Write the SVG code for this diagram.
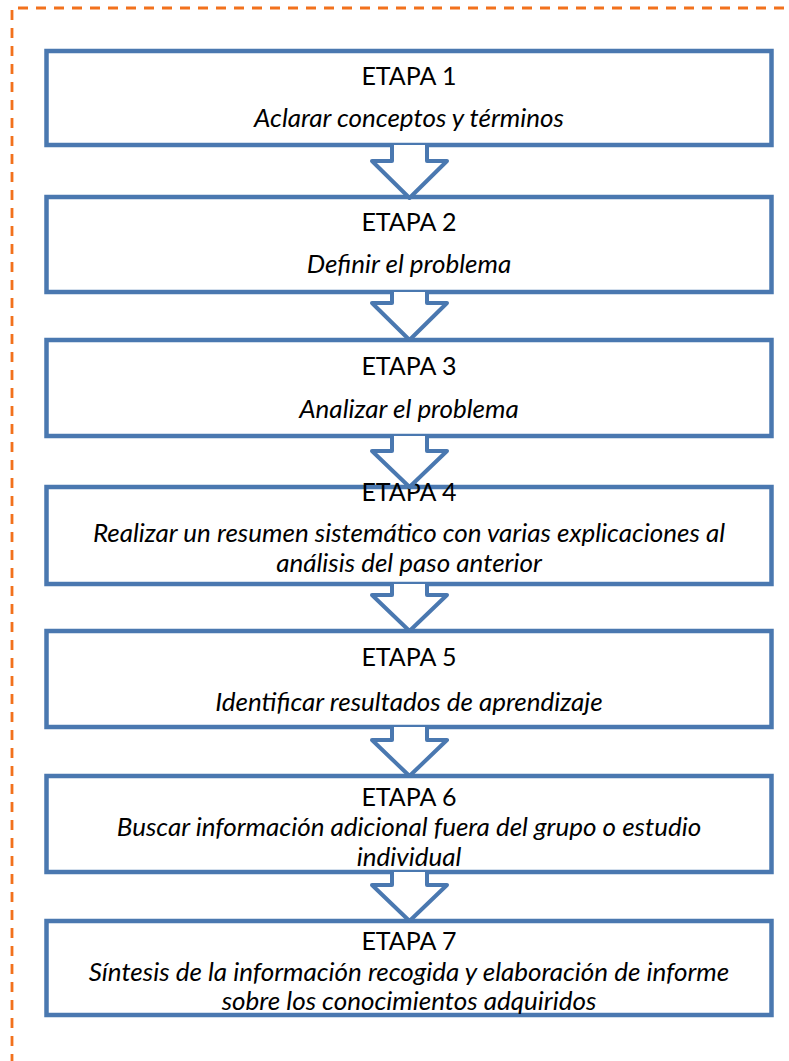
<svg xmlns="http://www.w3.org/2000/svg" width="789" height="1061" viewBox="0 0 789 1061">
<style>
.frame{fill:none;stroke:#F2711C;stroke-width:2.8;stroke-dasharray:10 8}
.box{fill:#fff;stroke:#4A78B0;stroke-width:4.5}
.arr{fill:#fff;stroke:#4A78B0;stroke-width:4;stroke-linejoin:round}
.t{font-family:Lato,"Open Sans",sans-serif;font-size:25px;fill:#000;text-anchor:middle}
.i{font-style:italic;font-size:26px}
</style>
<rect width="789" height="1061" fill="#fff"/>
<g id="frame">
<line class="frame" x1="18" y1="8" x2="789" y2="8"/>
<line class="frame" x1="12" y1="10" x2="12" y2="1061"/>
</g>
<g id="stage1"><rect class="box" x="46.5" y="51" width="725" height="94"/>
<text class="t" x="409" y="85">ETAPA 1</text><text class="t i" x="409" y="127">Aclarar conceptos y términos</text></g>
<g id="stage2"><rect class="box" x="46.5" y="197" width="725" height="95"/>
<text class="t" x="409" y="231">ETAPA 2</text><text class="t i" x="409" y="273">Definir el problema</text></g>
<g id="stage3"><rect class="box" x="46.5" y="340" width="725" height="96"/>
<text class="t" x="409" y="375">ETAPA 3</text><text class="t i" x="409" y="418">Analizar el problema</text></g>
<g id="stage4"><rect class="box" x="46.5" y="487" width="725" height="97"/>
<text class="t" x="409" y="501">ETAPA 4</text><text class="t i" x="409" y="542">Realizar un resumen sistemático con varias explicaciones al</text><text class="t i" x="409" y="572">análisis del paso anterior</text></g>
<g id="stage5"><rect class="box" x="46.5" y="631" width="725" height="96"/>
<text class="t" x="409" y="666">ETAPA 5</text><text class="t i" x="409" y="711">Identificar resultados de aprendizaje</text></g>
<g id="stage6"><rect class="box" x="46.5" y="776" width="725" height="96"/>
<text class="t" x="409" y="806">ETAPA 6</text><text class="t i" x="409" y="836">Buscar información adicional fuera del grupo o estudio</text><text class="t i" x="409" y="866">individual</text></g>
<g id="stage7"><rect class="box" x="46.5" y="921" width="725" height="94"/>
<text class="t" x="409" y="950">ETAPA 7</text><text class="t i" x="409" y="981">Síntesis de la información recogida y elaboración de informe</text><text class="t i" x="409" y="1010">sobre los conocimientos adquiridos</text></g>
<g id="connectors">
<path class="arr" d="M392,145 V161 H372 L409.5,198 L447,161 H427 V145"/>
<path class="arr" d="M392,292 V303 H372 L409.5,340 L447,303 H427 V292"/>
<path class="arr" d="M392,436 V451 H372 L409.5,487 L447,451 H427 V436"/>
<path class="arr" d="M392,584 V595 H372 L409.5,631 L447,595 H427 V584"/>
<path class="arr" d="M392,727 V740 H372 L409.5,776 L447,740 H427 V727"/>
<path class="arr" d="M392,872 V885 H372 L409.5,921 L447,885 H427 V872"/>
</g>
</svg>
